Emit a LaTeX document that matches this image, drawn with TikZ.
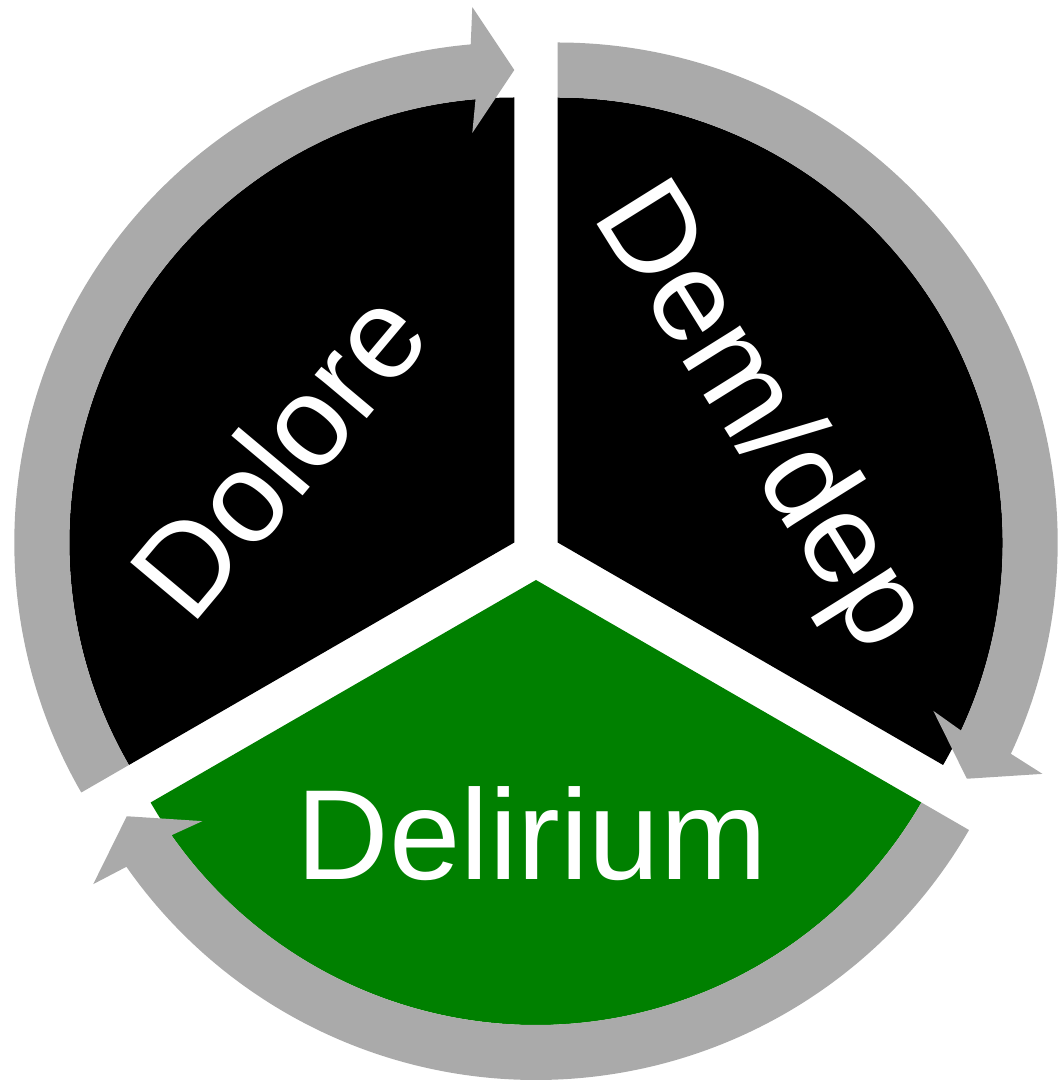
\documentclass[tikz,border=0pt]{standalone}
\usepackage{fontspec}
\setmainfont{Liberation Sans}
\usetikzlibrary{calc}
\usepackage{xcolor}

\definecolor{cinza}{HTML}{AAAAAA}
\definecolor{verde}{HTML}{008000}

\begin{document}
\begin{tikzpicture}[
    x=0.1mm,
    y=0.1mm,
    every node/.style={font=\fontsize{36.5}{44}\selectfont},
    setor/.style={
        fill=black
    },
    seta/.style={
        fill=cinza
    },
    rotulo/.style={
        text=white,
        inner sep=0pt
    }
]

\useasboundingbox (0,0) rectangle (1057,1081);

% centros dos setores
\coordinate (c1) at (514.3,538.5);
\coordinate (c2) at (557.7,538.5);
\coordinate (c3) at (536,501);

% ============================================================
% SETORES
% ============================================================

\fill[setor]
    (c1) -- ++(90:445)
    arc[start angle=90, end angle=210, radius=445] -- cycle;

\fill[setor]
    (c2) -- ++(-30:445)
    arc[start angle=-30, end angle=90, radius=445] -- cycle;

\fill[setor, fill=verde]
    (c3) -- ++(210:445)
    arc[start angle=210, end angle=330, radius=445] -- cycle;

% ============================================================
% SETAS
% ============================================================

% Dolore -> Dem/dep
\fill[seta]
    ($(c1)+(210:445)$)
    arc[start angle=210, end angle=95, radius=445]
    -- ($(c1)+(90:472.5)+(180:42)+(270:63)$)
    -- ($(c1)+(90:472.5)$)
    -- ($(c1)+(90:472.5)+(180:42)+(90:63)$)
    -- ($(c1)+(95:500)$)
    arc[start angle=95, end angle=210, radius=500]
    -- cycle;

% Dem/dep -> Delirium
\fill[seta]
    ($(c2)+(90:445)$)
    arc[start angle=90, end angle=-25, radius=445]
    -- ($(c2)+(-30:472.5)+(60:42)+(150:63)$)
    -- ($(c2)+(-30:472.5)$)
    -- ($(c2)+(-30:472.5)+(60:42)+(-30:63)$)
    -- ($(c2)+(-25:500)$)
    arc[start angle=-25, end angle=90, radius=500]
    -- cycle;

% Delirium -> Dolore
\fill[seta]
    ($(c3)+(-30:445)$)
    arc[start angle=-30, end angle=-145, radius=445]
    -- ($(c3)+(210:472.5)+(300:42)+(30:63)$)
    -- ($(c3)+(210:472.5)$)
    -- ($(c3)+(210:472.5)+(300:42)+(210:63)$)
    -- ($(c3)+(-145:500)$)
    arc[start angle=-145, end angle=-30, radius=500]
    -- cycle;

% ============================================================
% ROTULOS
% ============================================================

\node[
    rotulo,
    rotate=50
] (dolore) at (278,627.5)
{Dolore};

\node[
    rotulo,
    rotate=-58
] (demdep) at (758,662.5)
{Dem/dep};

\node[
    rotulo,
    anchor=base
] (delirium) at (532,201)
{Delirium};

\end{tikzpicture}
\end{document}
